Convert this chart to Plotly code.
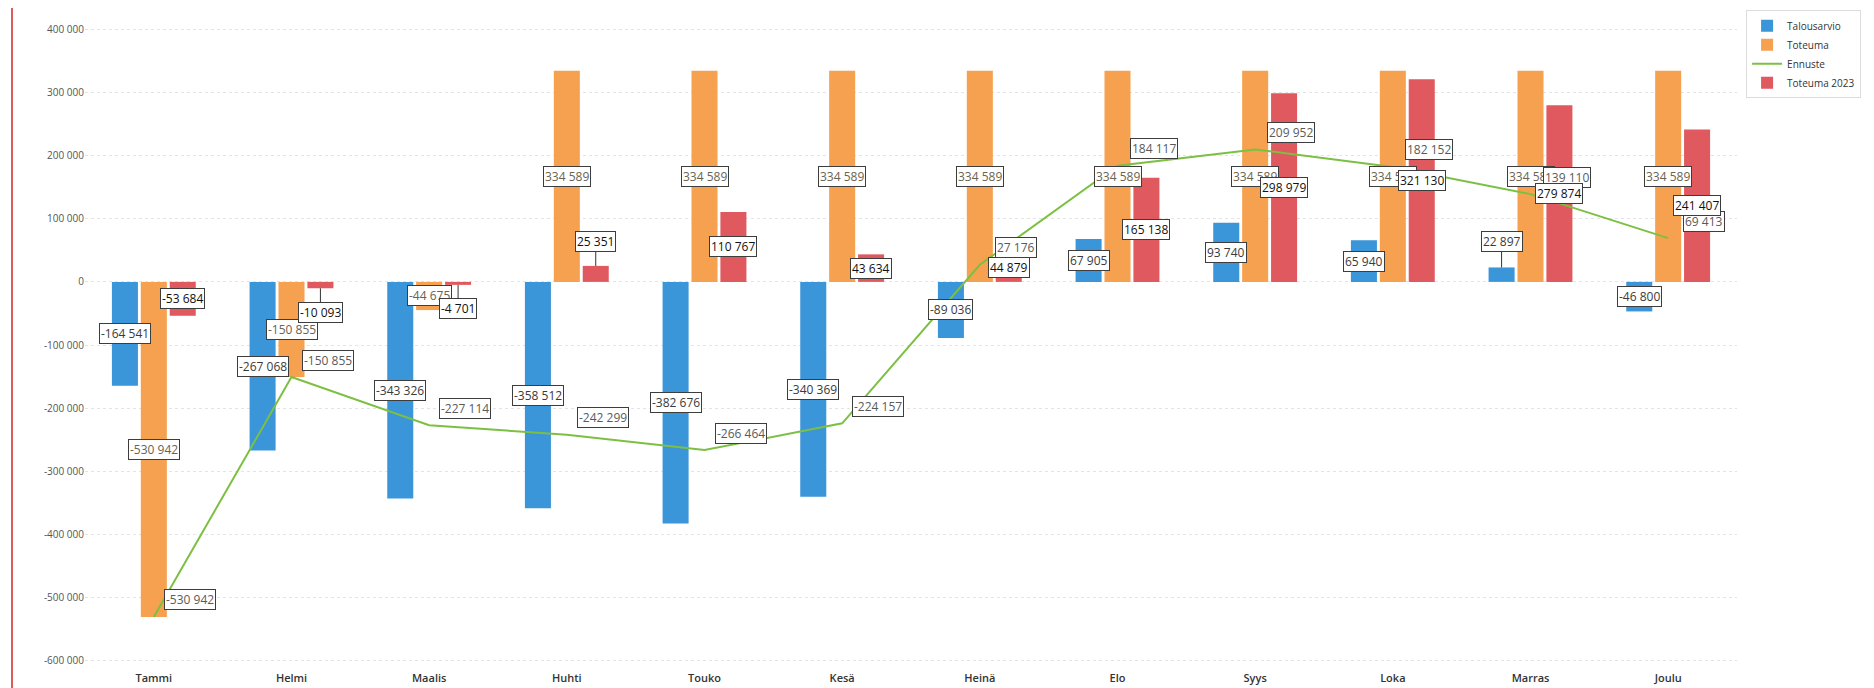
import plotly.graph_objects as go

# ---------------- data ----------------
months = ["Tammi", "Helmi", "Maalis", "Huhti", "Touko", "Kesä",
          "Heinä", "Elo", "Syys", "Loka", "Marras", "Joulu"]
talousarvio = [-164541, -267068, -343326, -358512, -382676, -340369,
               -89036, 67905, 93740, 65940, 22897, -46800]
toteuma = [-530942, -150855, -44675, 334589, 334589, 334589,
           334589, 334589, 334589, 334589, 334589, 334589]
ennuste = [-530942, -150855, -227114, -242299, -266464, -224157,
           27176, 184117, 209952, 182152, 139110, 69413]
toteuma_2023 = [-53684, -10093, -4701, 25351, 110767, 43634,
                44879, 165138, 298979, 321130, 279874, 241407]
ytick_vals = [400000, 300000, 200000, 100000, 0, -100000, -200000,
              -300000, -400000, -500000, -600000]

# ---------------- style ----------------
W, H = 1874, 688
ML, MR, MT, MB = 77, 145, 12, 26
BARGAP, BARGROUPGAP = 0.37, 0.10
C_BLUE, C_ORANGE, C_GREEN, C_RED = "#3a95d9", "#f5a14f", "#7cc043", "#e0595e"
FONT = "Open Sans"


def fmt(v):
    s = f"{abs(v):,}".replace(",", " ")
    return ("-" if v < 0 else "") + s


fig = go.Figure()
fig.add_trace(go.Bar(name="Talousarvio", x=months, y=talousarvio,
                     marker=dict(color=C_BLUE, line=dict(width=0))))
fig.add_trace(go.Bar(name="Toteuma", x=months, y=toteuma,
                     marker=dict(color=C_ORANGE, line=dict(width=0))))
fig.add_trace(go.Scatter(name="Ennuste", x=months, y=ennuste, mode="lines",
                         line=dict(color=C_GREEN, width=2)))
fig.add_trace(go.Bar(name="Toteuma 2023", x=months, y=toteuma_2023,
                     marker=dict(color=C_RED, line=dict(width=0))))

# pixel offset of each bar inside its group
cat_px = (W - ML - MR) / len(months)
slot = cat_px * (1 - BARGAP) / 3
offs = {"blue": -slot, "orange": 0.0, "red": slot}

box = dict(bgcolor="white", bordercolor="#3d3d3d", borderwidth=1, borderpad=1)
ann = []


def bar_label(m, v, dx, color, leader=None):
    a = dict(x=m, y=v / 2, text=fmt(v), showarrow=False, xshift=dx,
             font=dict(family=FONT, size=12, color=color), **box)
    if leader is not None:
        a.update(y=v, showarrow=True, arrowhead=0, arrowwidth=1,
                 arrowcolor="#333", ax=0, ay=leader, standoff=0)
    ann.append(a)


# leaders: label placed outside short bars
leaders_blue = {"Marras": -26}
leaders_red = {"Helmi": 24, "Maalis": 24, "Huhti": -24}

for m, v in zip(months, talousarvio):
    bar_label(m, v, offs["blue"], "#3a3a3a", leaders_blue.get(m))
for m, v in zip(months, toteuma):
    bar_label(m, v, offs["orange"], "#6a6250")
for m, v in zip(months, ennuste):
    ann.append(dict(x=m, y=v, text=fmt(v), showarrow=False, xshift=36, yshift=17,
                    font=dict(family=FONT, size=12, color="#5a5a5a"), **box))
for m, v in zip(months, toteuma_2023):
    bar_label(m, v, offs["red"], "#111111", leaders_red.get(m))

fig.update_layout(
    width=W, height=H,
    margin=dict(l=ML, r=MR, t=MT, b=MB, autoexpand=False),
    paper_bgcolor="white", plot_bgcolor="white",
    barmode="group", bargap=BARGAP, bargroupgap=BARGROUPGAP,
    font=dict(family=FONT, color="#333"),
    annotations=ann,
    legend=dict(x=1.0055, y=1.015, xanchor="left", yanchor="top",
                bordercolor="#dcdcdc", borderwidth=1,
                font=dict(family=FONT, size=10, color="#333"),
                traceorder="normal", tracegroupgap=3),
    xaxis=dict(showgrid=False, showline=False, zeroline=False, automargin=False,
               tickfont=dict(family=FONT, size=11, color="#333", weight=600),
               ticks=""),
    yaxis=dict(range=[-615000, 415000], tickvals=ytick_vals,
               ticktext=[fmt(v) for v in ytick_vals],
               showgrid=True, gridcolor="#e4e4e4", griddash="dot", gridwidth=1,
               zeroline=False, showline=False, automargin=False,
               tickfont=dict(family=FONT, size=10, color="#555")),
    shapes=[dict(type="line", xref="paper", yref="paper",
                 x0=(4 - ML) / (W - ML - MR), x1=(4 - ML) / (W - ML - MR),
                 y0=-MB / (H - MT - MB), y1=1 + MT / (H - MT - MB),
                 line=dict(color="#e05a5a", width=2))],
)

fig.write_html("out.html")
